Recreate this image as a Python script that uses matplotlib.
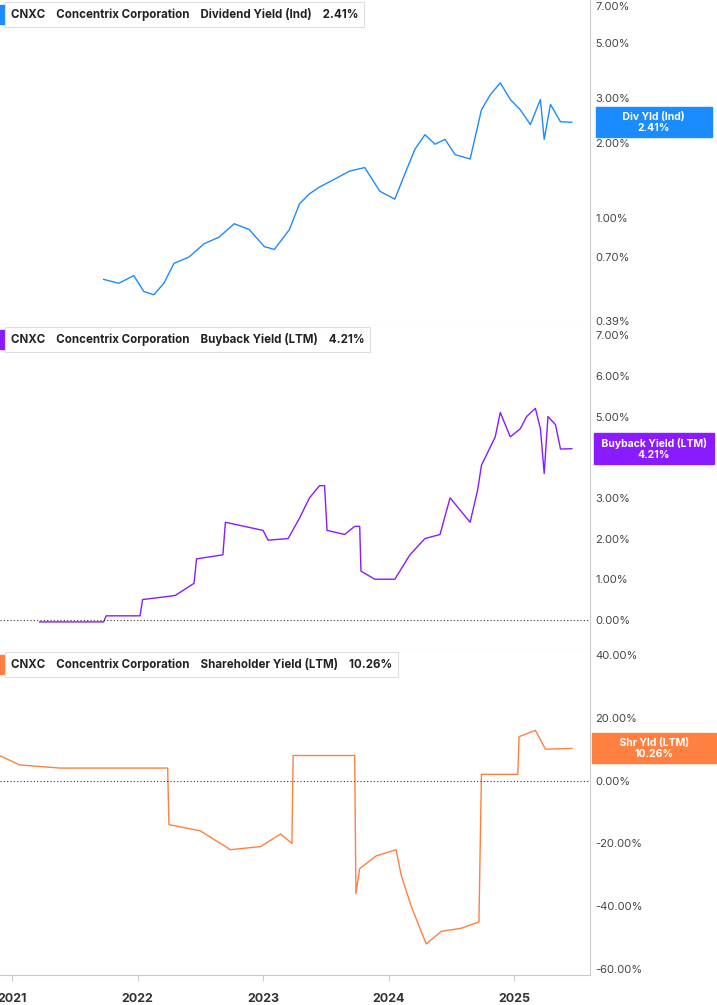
import matplotlib
matplotlib.use("Agg")
import matplotlib.pyplot as plt
from matplotlib.ticker import FixedLocator, NullLocator
from matplotlib.patches import Rectangle

plt.rcParams["font.family"] = "Inter"

# ---- data (year, percent) ----
div_t = [2021.73,2021.85,2021.97,2022.05,2022.13,2022.21,2022.29,2022.41,2022.53,2022.65,2022.77,2022.89,
         2023.01,2023.09,2023.21,2023.29,2023.37,2023.45,2023.57,2023.69,2023.81,2023.93,2024.05,2024.13,
         2024.21,2024.29,2024.37,2024.45,2024.53,2024.65,2024.74,2024.81,2024.89,2024.97,2025.05,2025.13,
         2025.21,2025.24,2025.29,2025.37,2025.46]
div_v = [0.57,0.55,0.59,0.51,0.495,0.55,0.66,0.70,0.79,0.84,0.95,0.90,0.77,0.75,0.90,1.14,1.25,1.33,1.43,
         1.54,1.59,1.28,1.19,1.50,1.88,2.15,1.97,2.06,1.79,1.72,2.70,3.10,3.46,2.97,2.70,2.36,2.97,2.06,
         2.84,2.42,2.41]

bb_t = [2021.22,2021.73,2021.75,2022.02,2022.04,2022.30,2022.45,2022.47,2022.68,2022.70,2023.00,2023.04,
        2023.20,2023.29,2023.37,2023.45,2023.49,2023.51,2023.65,2023.73,2023.77,2023.78,2023.89,2024.05,
        2024.17,2024.29,2024.41,2024.49,2024.65,2024.71,2024.74,2024.85,2024.89,2024.97,2025.05,2025.10,
        2025.17,2025.21,2025.24,2025.27,2025.33,2025.37,2025.46]
bb_v = [-0.05,-0.05,0.1,0.1,0.5,0.6,0.9,1.5,1.6,2.4,2.2,1.96,2.0,2.5,3.0,3.3,3.3,2.2,2.1,2.3,2.3,1.2,1.0,
        1.0,1.6,2.0,2.1,3.0,2.4,3.2,3.8,4.5,5.1,4.5,4.7,5.0,5.2,4.7,3.6,5.0,4.8,4.2,4.21]

sh_t = [2020.90,2021.06,2021.38,2021.70,2022.02,2022.24,2022.25,2022.50,2022.74,2022.98,2023.14,2023.23,
        2023.24,2023.46,2023.73,2023.74,2023.77,2023.90,2024.06,2024.10,2024.18,2024.30,2024.42,2024.58,
        2024.72,2024.74,2025.03,2025.04,2025.17,2025.25,2025.46]
sh_v = [8,5,4,4,4,4,-14,-16,-22,-21,-17,-20,8,8,8,-36,-28,-24,-22,-30,-40,-52,-48,-47,-45,2,2,14,16,10,10.26]

x_ticks = [2021, 2022, 2023, 2024, 2025]
x_labels = ["2021", "2022", "2023", "2024", "2025"]

blue, purple, orange = "#1a8cff", "#8a1aff", "#ff8040"
W, H = 717, 1005
fig = plt.figure(figsize=(W/100, H/100), dpi=100)
xl = (2020.904, 2025.605)

def make_ax(top, bottom):
    ax = fig.add_axes([0, 1-bottom/H, 590/W, (bottom-top)/H])
    ax.set_xlim(*xl)
    ax.yaxis.tick_right()
    for s in ["left", "top"]:
        ax.spines[s].set_visible(False)
    ax.spines["right"].set_color("#cccccc")
    ax.spines["bottom"].set_color("#cccccc")
    ax.tick_params(axis="y", labelsize=8, colors="#444444", length=0, pad=4)
    ax.tick_params(axis="x", length=0)
    ax.set_xticks(x_ticks)
    ax.set_xticklabels([])
    return ax

def header(ax, text, value, color):
    ax.text(0.018, 0.955, "CNXC    Concentrix Corporation    " + text + "    " + value,
            transform=ax.transAxes, fontsize=8.3, fontweight="bold", color="#222222",
            va="center", ha="left",
            bbox=dict(boxstyle="square,pad=0.5", fc="white", ec="#dddddd", lw=0.8))
    ax.add_patch(Rectangle((0, 0.925), 0.008, 0.06, transform=ax.transAxes, color=color, clip_on=False))

def tag(ax, y, text, color):
    ax.annotate(text, xy=(1.0, y), xycoords=("axes fraction", "data"), xytext=(46, 0),
                textcoords="offset points", fontsize=7.5, fontweight="bold", color="white",
                ha="center", va="center", linespacing=1.1, annotation_clip=False,
                bbox=dict(boxstyle="square,pad=0.45", fc=color, ec=color))

# Panel 1
ax1 = make_ax(0, 325)
ax1.set_yscale("log")
ax1.set_ylim(0.375, 7.4)
ax1.plot(div_t, div_v, color=blue, lw=1)
ax1.yaxis.set_major_locator(FixedLocator([0.39, 0.7, 1, 2, 3, 5, 7]))
ax1.yaxis.set_minor_locator(NullLocator())
ax1.set_yticklabels(["0.39%", "0.70%", "1.00%", "2.00%", "3.00%", "5.00%", "7.00%"])
header(ax1, "Dividend Yield (Ind)", "2.41%", blue)
tag(ax1, 2.41, "         Div Yld (Ind)         \n2.41%", blue)

# Panel 2
ax2 = make_ax(325, 650)
ax2.set_ylim(-0.74, 7.25)
ax2.plot(bb_t, bb_v, color=purple, lw=1)
ax2.set_yticks([0, 1, 2, 3, 4, 5, 6, 7])
ax2.set_yticklabels([f"{v:.2f}%" for v in [0, 1, 2, 3, 4, 5, 6, 7]])
ax2.axhline(0, color="#333333", lw=0.8, ls=(0, (1, 2)))
header(ax2, "Buyback Yield (LTM)", "4.21%", purple)
tag(ax2, 4.21, " Buyback Yield (LTM) \n4.21%", purple)

# Panel 3
ax3 = make_ax(650, 975)
ax3.set_ylim(-61.9, 41.6)
ax3.plot(sh_t, sh_v, color=orange, lw=1)
ax3.set_yticks([-60, -40, -20, 0, 20, 40])
ax3.set_yticklabels([f"{v:.2f}%" for v in [-60, -40, -20, 0, 20, 40]])
ax3.axhline(0, color="#333333", lw=0.8, ls=(0, (1, 2)))
header(ax3, "Shareholder Yield (LTM)", "10.26%", orange)
tag(ax3, 10.26, "         Shr Yld (LTM)         \n10.26%", orange)
ax3.set_xticklabels(x_labels)
ax3.tick_params(axis="x", labelsize=9, colors="#333333", pad=9, length=4, color="#cccccc")
for lab in ax3.get_xticklabels():
    lab.set_fontweight("bold")

fig.savefig("out.png", dpi=100)
